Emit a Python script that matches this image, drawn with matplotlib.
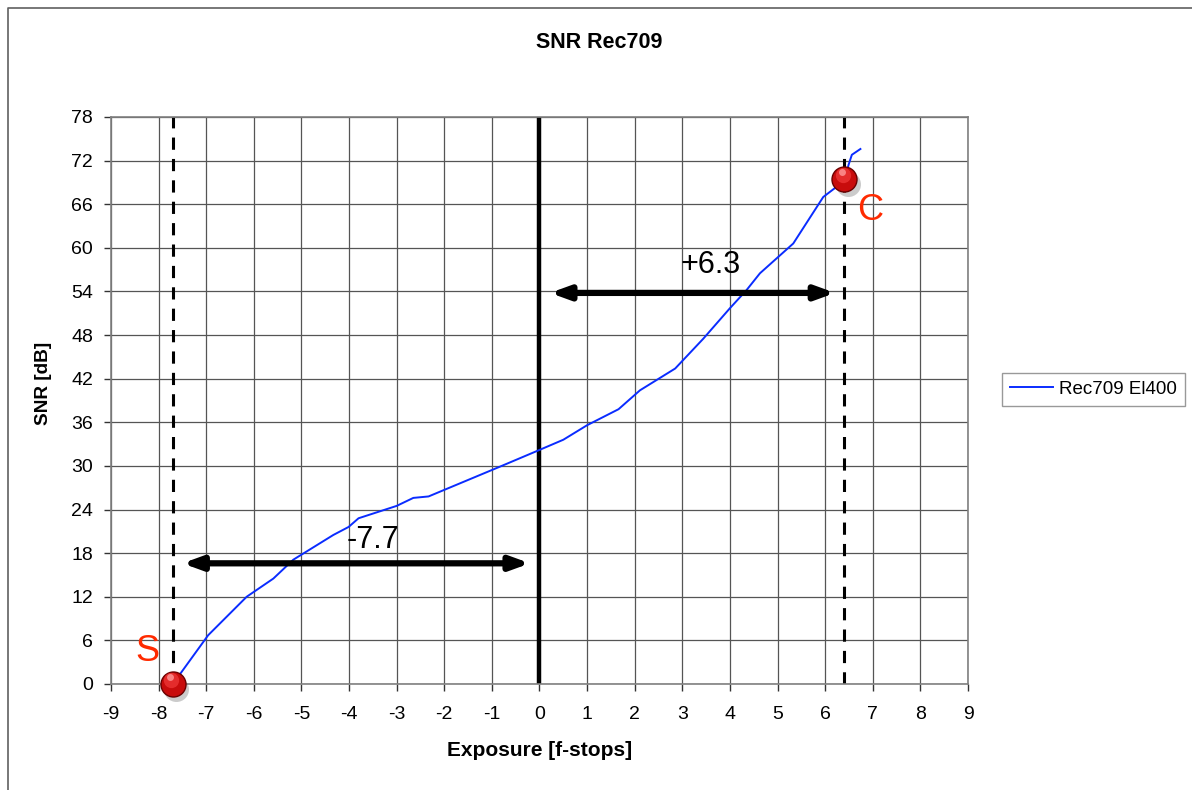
import matplotlib
matplotlib.use("Agg")
import matplotlib.pyplot as plt
from matplotlib.lines import Line2D
import numpy as np

plt.rcParams['font.family'] = ['Liberation Sans', 'DejaVu Sans']
plt.rcParams['axes.unicode_minus'] = False

# Data
exposure = [-7.7, -6.96, -6.15, -5.59, -5.17, -4.33, -4.01, -3.80, -3.0, -2.65, -2.33,
            -0.83, 0.0, 0.5, 1.0, 1.66, 2.11, 2.85, 3.44, 4.0, 4.35, 4.63, 5.33,
            5.96, 6.42, 6.49, 6.56, 6.74]
snr = [0.0, 6.7, 12.0, 14.5, 17.1, 20.5, 21.6, 22.8, 24.5, 25.6, 25.8,
       29.9, 32.2, 33.6, 35.6, 37.8, 40.4, 43.4, 47.5, 51.7, 54.2, 56.5, 60.6,
       67.0, 69.3, 71.4, 72.8, 73.6]
series_name = "Rec709 El400"
x_ticks = list(range(-9, 10))
y_ticks = list(range(0, 79, 6))
s_point = (-7.7, 0.0)
c_point = (6.4, 69.5)
left_span = -7.7
right_span = 6.3

fig = plt.figure(figsize=(11.92, 7.9), dpi=100)
# outer border (top and left only, as in the reference)
fig.lines.append(Line2D([0.0067, 0.0067, 1.0], [0.0, 0.9899, 0.9899], transform=fig.transFigure,
                        color='#606060', linewidth=1.2))
ax = fig.add_axes([0.0931, 0.1342, 0.7190, 0.7177])
ax.set_xlim(-9, 9)
ax.set_ylim(0, 78)
ax.set_xticks(x_ticks)
ax.set_yticks(y_ticks)
ax.grid(True, color='#555555', linewidth=0.9)
ax.set_axisbelow(True)
for s in ax.spines.values():
    s.set_color('#808080')
    s.set_linewidth(1.2)
ax.tick_params(direction='out', length=5, width=1, color='#333333', labelsize=14)
ax.tick_params(axis='x', pad=11)
ax.tick_params(axis='y', pad=8)

ax.plot(exposure, snr, color='#0a2cff', linewidth=1.4, label=series_name, zorder=3)

# reference lines
ax.axvline(0, color='black', linewidth=3.2, zorder=2)
ax.axvline(s_point[0], color='black', linewidth=2.2, linestyle=(0, (4, 3)), zorder=2)
ax.axvline(c_point[0], color='black', linewidth=2.2, linestyle=(0, (4, 3)), zorder=2)

# arrows
astyle = dict(arrowstyle='<|-|>,head_length=1.1,head_width=0.4', color='black',
              lw=4.5, shrinkA=0, shrinkB=0)
ax.annotate('', xy=(-7.5, 16.6), xytext=(-0.2, 16.6), arrowprops=astyle, zorder=4)
ax.annotate('', xy=(0.22, 53.8), xytext=(6.21, 53.8), arrowprops=astyle, zorder=4)
ax.text(-3.5, 19.8, f"{left_span:.1f}", fontsize=22, ha='center', va='center', zorder=5)
ax.text(3.6, 57.6, f"+{right_span:.1f}", fontsize=22, ha='center', va='center', zorder=5)

# markers S and C
for (px, py) in [s_point, c_point]:
    ax.plot(px + 0.07, py - 0.7, 'o', markersize=18, color='#555555', alpha=0.3,
            clip_on=False, zorder=6, markeredgewidth=0)
    ax.plot(px, py, 'o', markersize=18, color='#c80c0c', markeredgecolor='#6a0000',
            markeredgewidth=1.0, clip_on=False, zorder=7)
    ax.plot(px - 0.03, py + 0.5, 'o', markersize=11, color='#e83030', alpha=0.9,
            clip_on=False, zorder=8, markeredgewidth=0)
    ax.plot(px - 0.05, py + 0.9, 'o', markersize=5, color='#ff9a9a', alpha=0.8,
            clip_on=False, zorder=9, markeredgewidth=0)
ax.text(-8.24, 4.4, 'S', color='#ff2a00', fontsize=26, ha='center', va='center', zorder=5)
ax.text(6.95, 65.2, 'C', color='#ff2a00', fontsize=26, ha='center', va='center', zorder=5)

fig.text(0.503, 1 - 42 / 790, 'SNR Rec709', fontsize=15.5, fontweight='bold',
         ha='center', va='center')
ax.set_xlabel('Exposure [f-stops]', fontsize=15, fontweight='bold', labelpad=13)
ax.set_ylabel('SNR [dB]', fontsize=13.7, fontweight='bold', labelpad=10)
ax.yaxis.set_label_coords(-0.069, 0.53)

leg = fig.legend(loc='center left', bbox_to_anchor=(0.8405, 0.5075), fontsize=13.5,
                 frameon=True, fancybox=False, edgecolor='#808080', handlelength=2.3,
                 handletextpad=0.35, borderpad=0.42, borderaxespad=0)
leg.get_frame().set_linewidth(1.0)

fig.savefig('out.png', dpi=100)
